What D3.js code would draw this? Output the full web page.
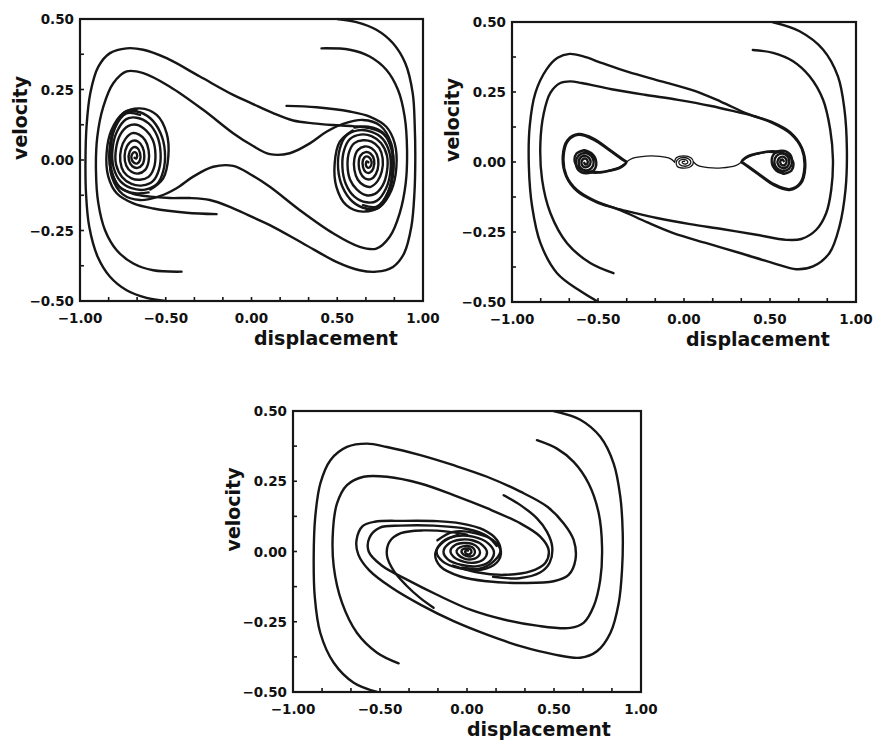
<!DOCTYPE html>
<html><head><meta charset="utf-8">
<script src="https://cdn.jsdelivr.net/npm/d3@7"></script>
<style>
body{margin:0;background:#fff}
text{font-family:"DejaVu Sans",sans-serif;font-weight:bold;fill:#111}
</style></head>
<body><svg id="c" width="875" height="743"></svg>
<script>
const xTicks=[-1,-0.5,0,0.5,1];
const yTicks=[0.5,0.25,0,-0.25,-0.5];
const xTickLabels=["\u22121.00","\u22120.50","0.00","0.50","1.00"];
const yTickLabels=["0.50","0.25","0.00","\u22120.25","\u22120.50"];
const xMinorTicks=[-0.833,-0.667,-0.5,-0.333,-0.167,0,0.167,0.333,0.5,0.667,0.833];
const yMinorTicks=[0.375,0.25,0.125,0,-0.125,-0.25,-0.375];
const xTitle="displacement", yTitle="velocity";

// ---------- Panel 1 (double well) ----------
const p1_fromBottom=[[-0.50,-0.50],[-0.612,-0.489],[-0.728,-0.462],[-0.825,-0.414],[-0.897,-0.343],[-0.946,-0.237],[-0.965,-0.118],[-0.968,0],[-0.962,0.118],[-0.94,0.237],[-0.893,0.331],[-0.825,0.379],[-0.728,0.396],[-0.631,0.391],[-0.495,0.361],[-0.301,0.296],[-0.107,0.231],[0,0.201],[0.126,0.166],[0.243,0.140],[0.359,0.130],[0.476,0.124],[0.59,0.12],[0.69,0.113],[0.77,0.092],[0.82,0.035],[0.828,-0.035],[0.80,-0.115],[0.74,-0.17],[0.67,-0.178]];
const p1_fromTop=[[0.50,0.50],[0.612,0.489],[0.728,0.462],[0.825,0.414],[0.897,0.343],[0.94,0.237],[0.952,0.118],[0.955,0],[0.95,-0.118],[0.932,-0.237],[0.89,-0.331],[0.825,-0.379],[0.728,-0.396],[0.631,-0.391],[0.495,-0.361],[0.301,-0.296],[0.107,-0.231],[0,-0.201],[-0.126,-0.166],[-0.243,-0.142],[-0.359,-0.135],[-0.476,-0.135],[-0.59,-0.13],[-0.69,-0.12],[-0.77,-0.095],[-0.82,-0.035],[-0.828,0.035],[-0.80,0.115],[-0.74,0.17],[-0.67,0.178]];
const p1_from04=[[0.408,0.396],[0.573,0.391],[0.689,0.367],[0.786,0.320],[0.854,0.249],[0.893,0.154],[0.907,0.036],[0.899,-0.083],[0.864,-0.189],[0.806,-0.272],[0.728,-0.314],[0.631,-0.308],[0.476,-0.260],[0.282,-0.178],[0.107,-0.095],[0,-0.053],[-0.107,-0.021],[-0.223,-0.024],[-0.34,-0.059],[-0.437,-0.10],[-0.534,-0.128],[-0.65,-0.142],[-0.75,-0.122],[-0.815,-0.058],[-0.825,0.025],[-0.795,0.115],[-0.73,0.165],[-0.65,0.16]];
const p1_fromM04=[[-0.408,-0.396],[-0.573,-0.391],[-0.689,-0.367],[-0.786,-0.320],[-0.854,-0.249],[-0.893,-0.154],[-0.907,-0.036],[-0.899,0.083],[-0.864,0.189],[-0.806,0.272],[-0.728,0.314],[-0.631,0.308],[-0.476,0.260],[-0.282,0.178],[-0.107,0.095],[0,0.053],[0.107,0.021],[0.223,0.024],[0.34,0.059],[0.437,0.10],[0.534,0.128],[0.65,0.142],[0.75,0.122],[0.815,0.058],[0.825,-0.025],[0.795,-0.115],[0.73,-0.165],[0.65,-0.16]];
const p1_from02=[[0.204,0.192],[0.379,0.187],[0.573,0.172],[0.689,0.154],[0.786,0.118],[0.835,0.059],[0.845,-0.024],[0.816,-0.107],[0.748,-0.166],[0.65,-0.183],[0.553,-0.16],[0.495,-0.095],[0.485,-0.012],[0.515,0.065],[0.59,0.105]];
const p1_fromM02=[[-0.204,-0.192],[-0.379,-0.187],[-0.573,-0.172],[-0.689,-0.154],[-0.786,-0.118],[-0.835,-0.059],[-0.845,0.024],[-0.816,0.107],[-0.748,0.166],[-0.65,0.183],[-0.553,0.16],[-0.495,0.095],[-0.485,0.012],[-0.515,-0.065],[-0.59,-0.105]];
const p1_rightCore=[[0.60,0.115],[0.68,0.118],[0.77,0.095],[0.815,0.04],[0.825,-0.03],[0.80,-0.11],[0.74,-0.165],[0.67,-0.172],[0.59,-0.148],[0.53,-0.095],[0.505,-0.03],[0.515,0.04],[0.55,0.085],[0.62,0.105],[0.70,0.10],[0.765,0.075],[0.805,0.025],[0.81,-0.04],[0.785,-0.10],[0.73,-0.145],[0.67,-0.15],[0.60,-0.13],[0.55,-0.085],[0.53,-0.025],[0.54,0.035],[0.575,0.075],[0.635,0.09],[0.70,0.085],[0.755,0.06],[0.79,0.015],[0.79,-0.04],[0.765,-0.09],[0.72,-0.12],[0.67,-0.125],[0.615,-0.105],[0.575,-0.07],[0.56,-0.02],[0.57,0.03],[0.60,0.06],[0.65,0.07],[0.70,0.065],[0.745,0.042],[0.765,0.005],[0.76,-0.04],[0.735,-0.075],[0.695,-0.095],[0.655,-0.09],[0.62,-0.07],[0.60,-0.035],[0.60,0.005],[0.62,0.035],[0.66,0.048],[0.70,0.042],[0.73,0.02],[0.74,-0.015],[0.725,-0.05],[0.695,-0.068],[0.66,-0.065],[0.635,-0.045],[0.625,-0.015],[0.635,0.015],[0.665,0.028],[0.695,0.022],[0.715,0.0],[0.71,-0.03],[0.69,-0.045],[0.665,-0.042],[0.65,-0.025],[0.65,0.0],[0.665,0.012],[0.685,0.01],[0.70,-0.005],[0.695,-0.022],[0.68,-0.028],[0.667,-0.018],[0.672,-0.005],[0.682,-0.008]];
const p1_leftCore=[[-0.60,-0.115],[-0.68,-0.118],[-0.77,-0.095],[-0.815,-0.04],[-0.825,0.03],[-0.80,0.11],[-0.74,0.165],[-0.67,0.172],[-0.59,0.148],[-0.53,0.095],[-0.505,0.03],[-0.515,-0.04],[-0.55,-0.085],[-0.62,-0.105],[-0.70,-0.10],[-0.765,-0.075],[-0.805,-0.025],[-0.81,0.04],[-0.785,0.10],[-0.73,0.145],[-0.67,0.15],[-0.60,0.13],[-0.55,0.085],[-0.53,0.025],[-0.54,-0.035],[-0.575,-0.075],[-0.635,-0.09],[-0.70,-0.085],[-0.755,-0.06],[-0.79,-0.015],[-0.79,0.04],[-0.765,0.09],[-0.72,0.12],[-0.67,0.125],[-0.615,0.105],[-0.575,0.07],[-0.56,0.02],[-0.57,-0.03],[-0.60,-0.06],[-0.65,-0.07],[-0.70,-0.065],[-0.745,-0.042],[-0.765,-0.005],[-0.76,0.04],[-0.735,0.075],[-0.695,0.095],[-0.655,0.09],[-0.62,0.07],[-0.60,0.035],[-0.60,-0.005],[-0.62,-0.035],[-0.66,-0.048],[-0.70,-0.042],[-0.73,-0.02],[-0.74,0.015],[-0.725,0.05],[-0.695,0.068],[-0.66,0.065],[-0.635,0.045],[-0.625,0.015],[-0.635,-0.015],[-0.665,-0.028],[-0.695,-0.022],[-0.715,0.0],[-0.71,0.03],[-0.69,0.045],[-0.665,0.042],[-0.65,0.025],[-0.65,0.0],[-0.665,-0.012],[-0.685,-0.01],[-0.70,0.005],[-0.695,0.022],[-0.68,0.028],[-0.667,0.018],[-0.672,0.005],[-0.682,0.008]];

// ---------- Panel 2 (three spirals) ----------
const p2_fromTop=[[0.518,0.499],[0.672,0.467],[0.808,0.402],[0.895,0.306],[0.933,0.187],[0.947,0.044],[0.939,-0.099],[0.904,-0.23],[0.846,-0.325],[0.75,-0.373],[0.653,-0.383],[0.518,-0.361],[0.325,-0.325],[0.131,-0.29],[-0.062,-0.254],[-0.216,-0.215],[-0.371,-0.172],[-0.51,-0.143],[-0.62,-0.105],[-0.686,-0.05],[-0.705,0.02],[-0.678,0.078],[-0.613,0.1],[-0.526,0.084],[-0.43,0.043],[-0.35,0.007],[-0.335,0],[-0.37,-0.018],[-0.43,-0.03],[-0.49,-0.036],[-0.545,-0.034]];
const p2_fromBottom=[[-0.50,-0.499],[-0.6,-0.462],[-0.738,-0.397],[-0.835,-0.289],[-0.883,-0.159],[-0.902,-0.015],[-0.897,0.128],[-0.864,0.247],[-0.8,0.33],[-0.735,0.372],[-0.665,0.386],[-0.59,0.378],[-0.47,0.352],[-0.325,0.322],[-0.131,0.288],[0.062,0.254],[0.216,0.215],[0.371,0.172],[0.51,0.143],[0.62,0.105],[0.686,0.05],[0.705,-0.02],[0.678,-0.078],[0.613,-0.1],[0.526,-0.084],[0.43,-0.043],[0.35,-0.007],[0.335,0],[0.37,0.018],[0.43,0.03],[0.49,0.036],[0.545,0.034]];
const p2_from04=[[0.4,0.4],[0.518,0.39],[0.634,0.36],[0.73,0.306],[0.808,0.223],[0.85,0.116],[0.866,0.008],[0.856,-0.099],[0.827,-0.182],[0.769,-0.242],[0.682,-0.275],[0.595,-0.278],[0.421,-0.26],[0.228,-0.24],[0.035,-0.222],[-0.158,-0.2],[-0.3,-0.18],[-0.4,-0.165],[-0.52,-0.138],[-0.622,-0.1],[-0.684,-0.048],[-0.7,0.02],[-0.674,0.076],[-0.613,0.097],[-0.526,0.08],[-0.43,0.04],[-0.35,0.005],[-0.336,0],[-0.37,-0.02],[-0.44,-0.032],[-0.5,-0.038],[-0.56,-0.035],[-0.61,-0.022],[-0.635,0.0],[-0.625,0.03],[-0.58,0.042]];
const p2_fromM04=[[-0.41,-0.397],[-0.545,-0.361],[-0.68,-0.29],[-0.777,-0.182],[-0.825,-0.063],[-0.835,0.068],[-0.815,0.175],[-0.777,0.247],[-0.719,0.282],[-0.661,0.288],[-0.595,0.282],[-0.421,0.26],[-0.228,0.24],[-0.035,0.222],[0.158,0.2],[0.3,0.18],[0.4,0.165],[0.52,0.138],[0.622,0.1],[0.684,0.048],[0.7,-0.02],[0.674,-0.076],[0.613,-0.097],[0.526,-0.08],[0.43,-0.04],[0.35,-0.005],[0.336,0],[0.37,0.02],[0.44,0.032],[0.5,0.038],[0.56,0.035],[0.61,0.022],[0.635,0.0],[0.625,-0.03],[0.58,-0.042]];
const p2_leftCore=[[-0.58,0.042],[-0.535,0.03],[-0.51,0.0],[-0.525,-0.03],[-0.57,-0.04],[-0.615,-0.028],[-0.628,0.0],[-0.612,0.024],[-0.575,0.032],[-0.54,0.022],[-0.525,0.0],[-0.538,-0.022],[-0.572,-0.03],[-0.603,-0.02],[-0.612,0.0],[-0.6,0.017],[-0.575,0.022],[-0.552,0.014],[-0.543,0.0],[-0.553,-0.014],[-0.574,-0.019],[-0.592,-0.012],[-0.596,0.0],[-0.587,0.01],[-0.574,0.012],[-0.562,0.006],[-0.561,-0.005],[-0.572,-0.009],[-0.58,-0.003]];
const p2_rightCore=[[0.58,-0.042],[0.535,-0.03],[0.51,0.0],[0.525,0.03],[0.57,0.04],[0.615,0.028],[0.628,0.0],[0.612,-0.024],[0.575,-0.032],[0.54,-0.022],[0.525,0.0],[0.538,0.022],[0.572,0.03],[0.603,0.02],[0.612,0.0],[0.6,-0.017],[0.575,-0.022],[0.552,-0.014],[0.543,0.0],[0.553,0.014],[0.574,0.019],[0.592,0.012],[0.596,0.0],[0.587,-0.01],[0.574,-0.012],[0.562,-0.006],[0.561,0.005],[0.572,0.009],[0.58,0.003]];
const p2_centerCore=[[-0.055,0.0],[-0.045,0.015],[0.0,0.022],[0.04,0.015],[0.055,0.0],[0.04,-0.016],[0.0,-0.022],[-0.04,-0.015],[-0.045,0.0],[-0.033,0.011],[0.0,0.016],[0.03,0.01],[0.04,0.0],[0.03,-0.011],[0.0,-0.015],[-0.025,-0.009],[-0.03,0.0],[-0.02,0.007],[0.0,0.009],[0.018,0.005],[0.022,-0.002],[0.012,-0.007],[0.0,-0.007],[-0.01,-0.003],[-0.008,0.002],[0.003,0.002]];
const p2_sepLeft=[[-0.335,0.0],[-0.30,0.013],[-0.22,0.021],[-0.14,0.02],[-0.08,0.012],[-0.055,0.0]];
const p2_sepRight=[[0.335,0.0],[0.30,-0.013],[0.22,-0.021],[0.14,-0.02],[0.08,-0.012],[0.055,0.0]];

// ---------- Panel 3 (single spiral) ----------
const p3_fromTop=[[0.498,0.5],[0.651,0.469],[0.766,0.408],[0.843,0.313],[0.881,0.195],[0.895,0.065],[0.891,-0.065],[0.872,-0.183],[0.824,-0.29],[0.747,-0.355],[0.651,-0.378],[0.498,-0.366],[0.307,-0.337],[0.115,-0.296],[-0.077,-0.248],[-0.268,-0.189],[-0.43,-0.13],[-0.56,-0.068],[-0.625,-0.01],[-0.635,0.04],[-0.6,0.09],[-0.53,0.106],[-0.364,0.109],[-0.172,0.108],[-0.038,0.1],[0.096,0.077],[0.172,0.041],[0.192,0],[0.153,-0.035],[0.077,-0.06],[-0.03,-0.058]];
const p3_fromBottom=[[-0.517,-0.5],[-0.651,-0.467],[-0.766,-0.396],[-0.843,-0.29],[-0.875,-0.16],[-0.881,-0.018],[-0.872,0.124],[-0.843,0.242],[-0.785,0.325],[-0.69,0.372],[-0.575,0.384],[-0.46,0.372],[-0.268,0.343],[-0.077,0.307],[0.115,0.266],[0.307,0.213],[0.46,0.16],[0.556,0.1],[0.613,0.041],[0.623,-0.03],[0.584,-0.083],[0.498,-0.106],[0.307,-0.112],[0.115,-0.106],[-0.038,-0.089],[-0.153,-0.053],[-0.182,-0.006],[-0.134,0.035],[-0.05,0.06]];
const p3_from04=[[0.402,0.396],[0.517,0.366],[0.613,0.319],[0.699,0.242],[0.757,0.136],[0.776,0.018],[0.766,-0.1],[0.728,-0.195],[0.67,-0.254],[0.594,-0.272],[0.402,-0.264],[0.211,-0.242],[0.019,-0.207],[-0.172,-0.154],[-0.345,-0.1],[-0.49,-0.05],[-0.565,0.0],[-0.56,0.05],[-0.5,0.085],[-0.383,0.092],[-0.192,0.092],[0,0.08],[0.115,0.055],[0.17,0.02]];
const p3_fromM04=[[-0.393,-0.398],[-0.517,-0.36],[-0.632,-0.29],[-0.718,-0.183],[-0.766,-0.053],[-0.77,0.077],[-0.747,0.171],[-0.69,0.236],[-0.594,0.266],[-0.46,0.266],[-0.268,0.242],[-0.077,0.201],[0.115,0.154],[0.307,0.1],[0.421,0.053],[0.469,0.006],[0.45,-0.041],[0.364,-0.071],[0.211,-0.083],[0.057,-0.074],[-0.08,-0.05]];
const p3_from02=[[0.211,0.2],[0.307,0.165],[0.402,0.118],[0.46,0.07],[0.49,0.015],[0.475,-0.04],[0.42,-0.075],[0.3,-0.095],[0.15,-0.09]];
const p3_fromM02=[[-0.192,-0.2],[-0.27,-0.165],[-0.35,-0.12],[-0.42,-0.07],[-0.46,-0.015],[-0.445,0.035],[-0.38,0.065],[-0.25,0.075],[-0.1,0.07],[0.0,0.06]];
const p3_core=[[-0.17,0.04],[-0.08,0.07],[0.05,0.065],[0.15,0.04],[0.195,0.0],[0.17,-0.04],[0.08,-0.065],[-0.04,-0.06],[-0.14,-0.035],[-0.175,0.0],[-0.14,0.035],[-0.06,0.055],[0.04,0.052],[0.12,0.03],[0.155,-0.002],[0.13,-0.035],[0.06,-0.052],[-0.03,-0.048],[-0.11,-0.028],[-0.135,0.0],[-0.1,0.03],[-0.04,0.042],[0.03,0.04],[0.09,0.022],[0.115,-0.003],[0.095,-0.028],[0.04,-0.04],[-0.02,-0.036],[-0.075,-0.02],[-0.095,0.002],[-0.07,0.022],[-0.02,0.03],[0.03,0.027],[0.065,0.012],[0.075,-0.005],[0.06,-0.02],[0.025,-0.028],[-0.015,-0.025],[-0.05,-0.012],[-0.06,0.003],[-0.04,0.015],[0.0,0.02],[0.03,0.015],[0.045,0.003],[0.04,-0.012],[0.02,-0.018],[-0.005,-0.016],[-0.028,-0.006],[-0.03,0.005],[-0.015,0.01],[0.01,0.011],[0.025,0.003],[0.02,-0.008],[0.005,-0.01],[-0.01,-0.004],[-0.008,0.003],[0.005,0.003]];

const panels=[
 {box:[80,19,423,301], thick:[p1_fromBottom,p1_fromTop,p1_from04,p1_fromM04,p1_from02,p1_fromM02,p1_rightCore,p1_leftCore], thin:[]},
 {box:[512,22,856,302], thick:[p2_fromTop,p2_fromBottom,p2_from04,p2_fromM04,p2_leftCore,p2_rightCore], thin:[p2_centerCore,p2_sepLeft,p2_sepRight]},
 {box:[293,411,641,692], thick:[p3_fromTop,p3_fromBottom,p3_from04,p3_fromM04,p3_from02,p3_fromM02,p3_core], thin:[]}
];

const svg=d3.select("#c");
svg.append("rect").attr("width",875).attr("height",743).attr("fill","#fff");
panels.forEach((p,i)=>{
  const [L,T,R,B]=p.box;
  const x=d3.scaleLinear().domain([-1,1]).range([L,R]);
  const y=d3.scaleLinear().domain([-0.5,0.5]).range([B,T]);
  const g=svg.append("g");
  const cid="clip"+i;
  g.append("clipPath").attr("id",cid).append("rect").attr("x",L).attr("y",T).attr("width",R-L).attr("height",B-T);
  const line=d3.line().x(d=>x(d[0])).y(d=>y(d[1])).curve(d3.curveCatmullRom.alpha(0.5));
  const lg=g.append("g").attr("clip-path",`url(#${cid})`).attr("fill","none").attr("stroke","#161616").attr("stroke-linecap","round").attr("stroke-linejoin","round");
  p.thick.forEach(d=>lg.append("path").attr("d",line(d)).attr("stroke-width",2.4));
  p.thin.forEach(d=>lg.append("path").attr("d",line(d)).attr("stroke-width",1.3));
  const tg=g.append("g").attr("stroke","#161616").attr("stroke-width",1.6);
  xMinorTicks.forEach(t=>tg.append("line").attr("x1",x(t)).attr("x2",x(t)).attr("y1",B).attr("y2",B-4));
  yMinorTicks.forEach(t=>tg.append("line").attr("x1",L).attr("x2",L+4).attr("y1",y(t)).attr("y2",y(t)));
  g.append("rect").attr("x",L).attr("y",T).attr("width",R-L).attr("height",B-T).attr("fill","none").attr("stroke","#161616").attr("stroke-width",2.2);
  xTicks.forEach((t,k)=>{
    g.append("text").attr("x",x(t)).attr("y",B+22).attr("text-anchor","middle").attr("font-size",13.5).text(xTickLabels[k]);
  });
  yTicks.forEach((t,k)=>{
    g.append("text").attr("x",L-6).attr("y",y(t)+5).attr("text-anchor","end").attr("font-size",13.5).text(yTickLabels[k]);
  });
  g.append("text").attr("x",L+174).attr("y",B+44).attr("font-size",19).text(xTitle);
  g.append("text").attr("transform",`translate(${L-53},${y(0)}) rotate(-90)`).attr("font-size",19).text(yTitle);
});
</script></body></html>
